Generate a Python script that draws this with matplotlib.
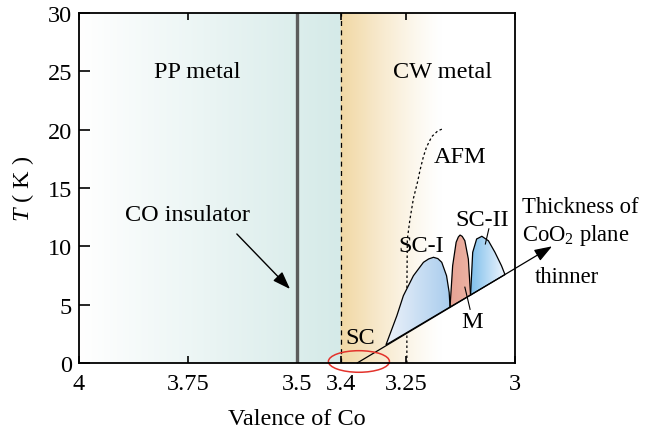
import numpy as np
import matplotlib
matplotlib.use('Agg')
import matplotlib.pyplot as plt
from matplotlib.patches import Polygon, Ellipse

plt.rcParams['font.family'] = ['Liberation Serif', 'DejaVu Serif']
plt.rcParams['mathtext.fontset'] = 'custom'
plt.rcParams['mathtext.rm'] = 'Liberation Serif'
plt.rcParams['mathtext.it'] = 'Liberation Serif:italic'

# ---------------- data ----------------
x_ticks = [4, 3.75, 3.5, 3.4, 3.25, 3]
x_ticklabels = ['4', '3.75', '3.5', '3.4', '3.25', '3']
y_ticks = [0, 5, 10, 15, 20, 25, 30]

co_insulator_v = 3.5
phase_boundary_v = 3.4

afm_v = [3.248, 3.248, 3.247, 3.241, 3.233, 3.223, 3.218, 3.210, 3.203, 3.191, 3.177, 3.164]
afm_T = [0.0, 6.1, 10.6, 12.3, 14.1, 15.6, 16.5, 17.7, 18.5, 19.4, 19.9, 20.1]

thickness_v = [3.362, 2.915]
thickness_T = [0.0, 10.0]

sc1_v = [3.296, 3.271, 3.256, 3.233, 3.210, 3.198, 3.187, 3.177, 3.168, 3.157, 3.151, 3.149]
sc1_T = [1.55, 4.05, 5.77, 7.48, 8.63, 8.92, 9.06, 8.95, 8.63, 7.48, 6.06, 4.80]

m_v = [3.149, 3.143, 3.135, 3.130, 3.126, 3.121, 3.115, 3.107, 3.102]
m_T = [4.80, 8.34, 10.35, 10.80, 10.97, 10.85, 10.48, 8.91, 5.83]

sc2_v = [3.102, 3.097, 3.088, 3.076, 3.061, 3.046, 3.031, 3.023]
sc2_T = [5.83, 9.49, 10.63, 10.86, 10.48, 9.49, 8.34, 7.58]

# ---------------- figure ----------------
fig = plt.figure(figsize=(6.45, 4.35), dpi=100)
ax = fig.add_axes([79/645, 1-364/435, (515-79)/645, (364-14)/435])
ax.set_xlim(4, 3)
ax.set_ylim(0, 30)

# background gradient
vv = np.linspace(4, 3, 800)
white = np.array([1.0, 1.0, 1.0])
teal = np.array([0.835, 0.918, 0.910])
orange = np.array([0.945, 0.845, 0.640])
cols = np.ones((len(vv), 3))
for i, v in enumerate(vv):
    if v >= 3.4:
        t = (4 - v) / 0.6
        cols[i] = white * (1 - t) + teal * t
    elif v >= 3.17:
        s = ((v - 3.17) / 0.23) ** 1.2
        cols[i] = white * (1 - s) + orange * s
img = np.tile(cols[None, :, :], (2, 1, 1))
ax.imshow(img, extent=(4, 3, 0, 30), aspect='auto', origin='lower', zorder=0,
          interpolation='bilinear')

ax.axvline(co_insulator_v, color='#5c5c5c', lw=2.4, zorder=2)
ax.axvline(phase_boundary_v, color='black', lw=0.9, dashes=(4, 3.5), zorder=2)

ax.plot(afm_v, afm_T, color='black', lw=0.9, dashes=(2, 2), zorder=3)


def gradient_dome(vs, Ts, c_left, c_right):
    pts = np.column_stack([vs, Ts])
    poly = Polygon(pts, closed=True, facecolor='none', edgecolor='black',
                   lw=0.9, zorder=4)
    ax.add_patch(poly)
    n = 200
    c_left = np.array(c_left)
    c_right = np.array(c_right)
    t = np.linspace(0, 1, n)[:, None]
    g = (c_left * (1 - t) + c_right * t)[None, :, :]
    g = np.tile(g, (2, 1, 1))
    im = ax.imshow(g, extent=(max(vs), min(vs), min(Ts), max(Ts)),
                   aspect='auto', origin='lower', zorder=3.5,
                   interpolation='bilinear')
    im.set_clip_path(poly)


gradient_dome(sc1_v, sc1_T, (0.93, 0.95, 0.98), (0.66, 0.80, 0.93))
gradient_dome(m_v, m_T, (0.90, 0.64, 0.58), (0.93, 0.70, 0.64))
gradient_dome(sc2_v, sc2_T, (0.50, 0.75, 0.92), (0.95, 0.97, 1.0))

ax.annotate('', xy=(thickness_v[1], thickness_T[1]), xytext=(thickness_v[0], thickness_T[0]),
            arrowprops=dict(arrowstyle='-|>,head_length=0.9,head_width=0.32', color='black',
                            lw=0.9, mutation_scale=12, shrinkA=0, shrinkB=0),
            annotation_clip=False, zorder=5)

ax.add_patch(Ellipse((3.358, 0.13), 0.14, 1.85, facecolor='none', edgecolor='#e3322b',
                     lw=1.1, clip_on=False, zorder=6))

fs = 17.5
fs_side = 16.3
ax.text(3.729, 25.0, 'PP metal', ha='center', va='center', fontsize=fs, zorder=6)
ax.text(3.167, 25.0, 'CW metal', ha='center', va='center', fontsize=fs, zorder=6)
ax.text(3.126, 17.7, 'AFM', ha='center', va='center', fontsize=fs, zorder=6)
ax.text(3.751, 12.7, 'CO insulator', ha='center', va='center', fontsize=fs, zorder=6)
ax.text(3.216, 10.1, 'SC-I', ha='center', va='center', fontsize=fs, zorder=6)
ax.text(3.075, 12.3, 'SC-II', ha='center', va='center', fontsize=fs, zorder=6)
ax.text(3.099, 3.6, 'M', ha='center', va='center', fontsize=fs, zorder=6)
ax.text(3.356, 2.2, 'SC', ha='center', va='center', fontsize=fs, zorder=6)
ax.text(2.984, 13.4, 'Thickness of', ha='left', va='center', fontsize=fs_side,
        clip_on=False, zorder=6)
ax.text(2.984, 11.0, 'CoO$_2$ plane', ha='left', va='center', fontsize=fs_side,
        clip_on=False, zorder=6)
ax.text(2.954, 7.4, 'thinner', ha='left', va='center', fontsize=fs_side,
        clip_on=False, zorder=6)

ax.plot([3.060, 3.068], [11.5, 10.2], color='black', lw=0.8, zorder=6)
ax.plot([3.115, 3.103], [6.5, 4.6], color='black', lw=0.8, zorder=6)

ax.annotate('', xy=(3.516, 6.34), xytext=(3.638, 11.06),
            arrowprops=dict(arrowstyle='-|>,head_length=0.9,head_width=0.32', color='black',
                            lw=1.0, mutation_scale=12, shrinkA=0, shrinkB=0), zorder=6)

ax.set_xticks(x_ticks)
ax.set_xticklabels(x_ticklabels)
ax.set_yticks(y_ticks)
ax.tick_params(axis='x', direction='in', top=True, length=5, width=1.2, pad=7,
               labelsize=fs)
ax.tick_params(axis='y', direction='in', right=False, length=8, width=1.2, pad=5,
               labelsize=fs)
for sp in ax.spines.values():
    sp.set_linewidth(1.3)
    sp.set_zorder(7)

ax.set_xlabel('Valence of Co', fontsize=fs, labelpad=10)
ax.set_ylabel('$T$ ( K )', fontsize=fs, labelpad=8)

fig.savefig('out.png', dpi=100)
